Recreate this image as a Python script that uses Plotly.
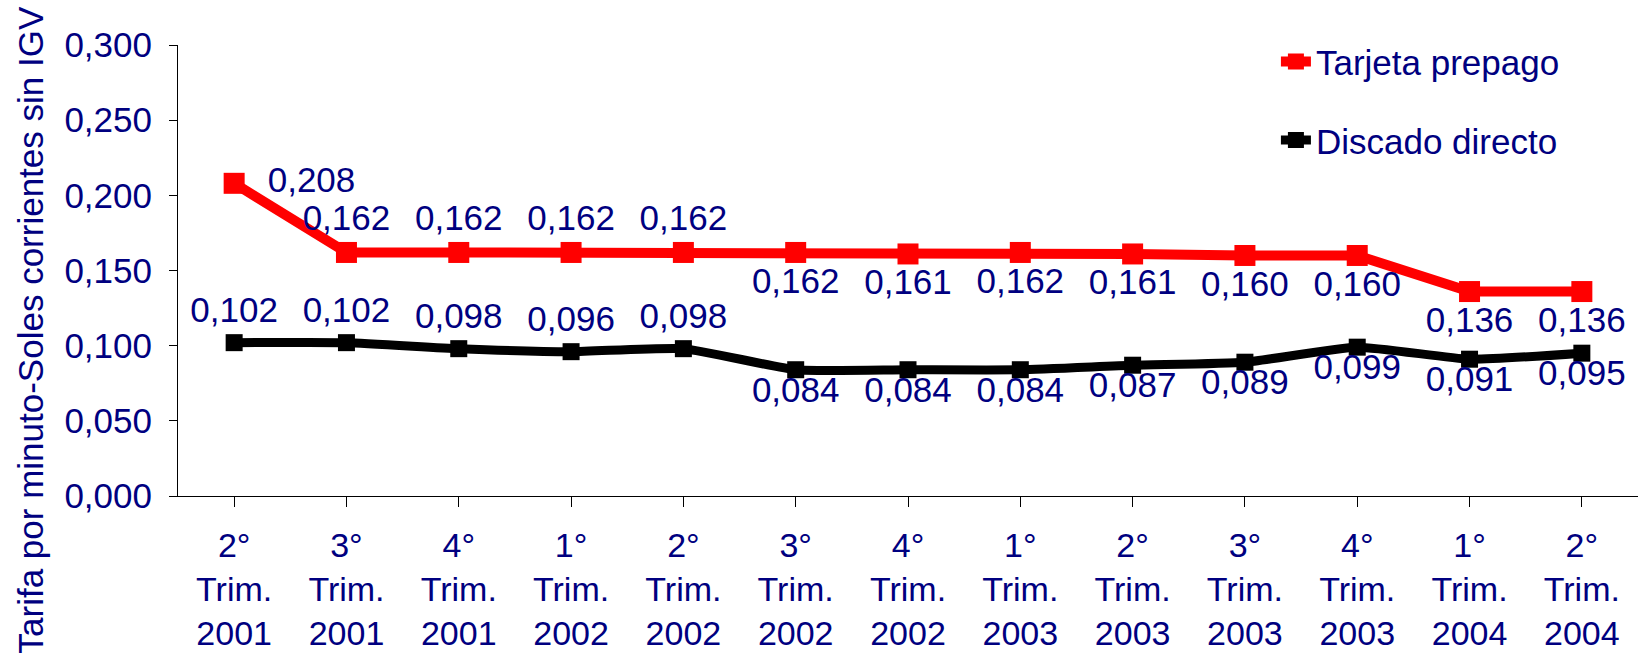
import plotly.graph_objects as go

quarters = ["2°", "3°", "4°", "1°", "2°", "3°", "4°", "1°", "2°", "3°", "4°", "1°", "2°"]
years = ["2001", "2001", "2001", "2002", "2002", "2002", "2002", "2003", "2003", "2003", "2003", "2004", "2004"]
tarjeta = [0.208, 0.162, 0.162, 0.162, 0.162, 0.162, 0.161, 0.162, 0.161, 0.160, 0.160, 0.136, 0.136]
discado = [0.102, 0.102, 0.098, 0.096, 0.098, 0.084, 0.084, 0.084, 0.087, 0.089, 0.099, 0.091, 0.095]
y_ticks = [0, 0.05, 0.10, 0.15, 0.20, 0.25, 0.30]

labels = [f"{q}<br>Trim.<br>{y}" for q, y in zip(quarters, years)]
x = list(range(len(labels)))

NAVY = "#000080"
FONT = "Liberation Sans, Arial, sans-serif"

tarjeta_pos = ["middle right"] + ["top center"] * 4 + ["bottom center"] * 8
n_above_discado = 5


def fmt(v):
    return f"{v:.3f}".replace(".", ",")


tarjeta_text = [fmt(v) for v in tarjeta]
tarjeta_text[0] = "  " + tarjeta_text[0]
discado_above = [fmt(v) if i < n_above_discado else "" for i, v in enumerate(discado)]
discado_below = [fmt(v) if i >= n_above_discado else "" for i, v in enumerate(discado)]

fig = go.Figure()
fig.add_trace(go.Scatter(
    x=x, y=tarjeta, name="Tarjeta prepago", mode="lines+markers+text",
    line=dict(color="#FF0000", width=10),
    marker=dict(symbol="square", size=21, color="#FF0000"),
    text=tarjeta_text,
    textposition=tarjeta_pos,
    textfont=dict(family=FONT, size=35, color=NAVY),
    legendgroup="a", cliponaxis=False,
))
fig.add_trace(go.Scatter(
    x=x, y=discado, name="Discado directo", mode="lines+markers+text",
    line=dict(color="#000000", width=9, shape="spline", smoothing=0.5),
    marker=dict(symbol="square", size=17, color="#000000"),
    text=discado_above,
    textposition="top center",
    textfont=dict(family=FONT, size=35, color=NAVY),
    legendgroup="b", cliponaxis=False,
))
fig.add_trace(go.Scatter(
    x=x, y=discado, mode="markers+text", showlegend=False,
    marker=dict(size=8, opacity=0),
    text=discado_below,
    textposition="bottom center",
    textfont=dict(family=FONT, size=35, color=NAVY),
    legendgroup="b", cliponaxis=False, hoverinfo="skip",
))

fig.update_layout(
    width=1638, height=653,
    margin=dict(l=178, r=0, t=45, b=157),
    paper_bgcolor="white", plot_bgcolor="white",
    separators=",.",
    font=dict(family=FONT, color=NAVY, size=34),
    showlegend=True,
    legend=dict(
        x=0.752, y=1.028, xanchor="left", yanchor="top",
        traceorder="grouped", tracegroupgap=30,
        font=dict(family=FONT, size=35, color=NAVY),
        bgcolor="rgba(0,0,0,0)",
    ),
    xaxis=dict(
        range=[-0.5, 12.5], tickmode="array", tickvals=x, ticktext=labels,
        showline=True, linecolor="black", linewidth=1,
        ticks="outside", ticklen=10, tickcolor="black", tickson="boundaries",
        showgrid=False, zeroline=False, automargin=False,
        tickfont=dict(family=FONT, size=34, color=NAVY),
        ticklabelstandoff=9,
    ),
    yaxis=dict(
        range=[0, 0.3], tickvals=y_ticks, tickformat=".3f",
        showline=True, linecolor="black", linewidth=1,
        ticks="outside", ticklen=8, tickcolor="black",
        showgrid=False, zeroline=False, automargin=False,
        tickfont=dict(family=FONT, size=35, color=NAVY),
        ticklabelstandoff=10,
    ),
    annotations=[dict(
        text="Tarifa por minuto-Soles corrientes sin IGV",
        xref="paper", yref="paper", x=-0.101, y=0.366,
        xanchor="center", yanchor="middle",
        textangle=-90, showarrow=False,
        font=dict(family=FONT, size=35, color=NAVY),
    )],
)

fig.write_html(
    "out.html",
    config={"displayModeBar": False},
    post_script="document.body.style.margin='0';document.body.style.overflow='hidden';",
)
